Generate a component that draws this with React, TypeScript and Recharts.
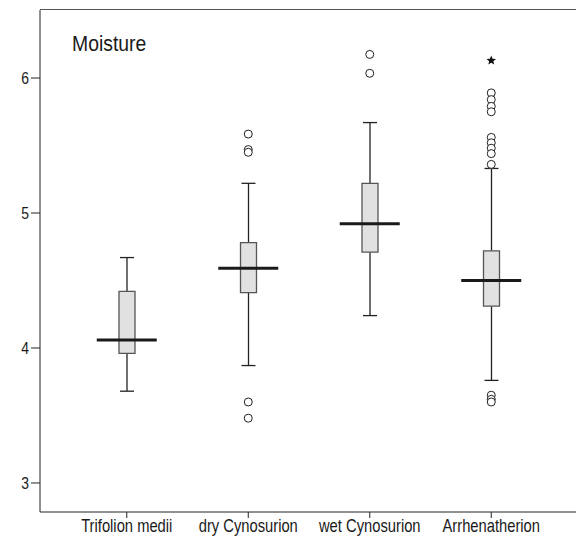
import { ComposedChart, Bar, Scatter, XAxis, YAxis } from "recharts";

// boxplot summary per vegetation type
const categories = ["Trifolion medii", "dry Cynosurion", "wet Cynosurion", "Arrhenatherion"];
const whiskerLow = [3.68, 3.87, 4.24, 3.76];
const quartile1 = [3.96, 4.41, 4.71, 4.31];
const medians = [4.06, 4.59, 4.92, 4.5];
const quartile3 = [4.42, 4.78, 5.22, 4.72];
const whiskerHigh = [4.67, 5.22, 5.67, 5.33];

// outliers (circles) and extremes (stars)
const outliers = [
  [],
  [5.585, 5.47, 5.45, 3.6, 3.48],
  [6.175, 6.035],
  [5.89, 5.84, 5.79, 5.75, 5.56, 5.52, 5.48, 5.44, 5.36, 3.65, 3.62, 3.6],
];
const extremes = [[], [], [], [6.13]];

const yTicks = [3, 4, 5, 6];
const yDomain = [2.785, 6.504];

const data = categories.map((name, i) => ({
  name,
  low: whiskerLow[i],
  q1: quartile1[i],
  median: medians[i],
  q3: quartile3[i],
  high: whiskerHigh[i],
}));

const outlierData = categories.flatMap((name, i) => outliers[i].map((value) => ({ name, value })));
const extremeData = categories.flatMap((name, i) => extremes[i].map((value) => ({ name, value })));

const FONT = "'Liberation Sans', Arial, sans-serif";

// no narrow font available, so squeeze the text horizontally
const XTick = (props: any) => {
  const { x, y, payload } = props;
  return (
    <g transform={`translate(${x},${y})`}>
      <text transform="scale(0.82,1)" textAnchor="middle" dy="0.71em" fontFamily={FONT} fontSize={18} fill="#1a1a1a">
        {payload.value}
      </text>
    </g>
  );
};

const YTick = (props: any) => {
  const { x, y, payload } = props;
  return (
    <g transform={`translate(${x},${y})`}>
      <text transform="scale(0.87,1)" textAnchor="end" dy="0.355em" fontFamily={FONT} fontSize={16} fill="#1a1a1a">
        {payload.value}
      </text>
    </g>
  );
};

const LowWhisker = (props: any) => {
  const { x, y, width, height } = props;
  const cx = x + width / 2;
  return (
    <g>
      <line x1={cx} x2={cx} y1={y} y2={y + height} stroke="#222" strokeWidth={1.3} />
      <line x1={cx - 7} x2={cx + 7} y1={y + height} y2={y + height} stroke="#222" strokeWidth={1.3} />
    </g>
  );
};

const HighWhisker = (props: any) => {
  const { x, y, width, height } = props;
  const cx = x + width / 2;
  return (
    <g>
      <line x1={cx} x2={cx} y1={y} y2={y + height} stroke="#222" strokeWidth={1.3} />
      <line x1={cx - 7} x2={cx + 7} y1={y} y2={y} stroke="#222" strokeWidth={1.3} />
    </g>
  );
};

const MedianLine = (props: any) => {
  const { cx, cy } = props;
  return <line x1={cx - 30} x2={cx + 30} y1={cy} y2={cy} stroke="#1a1a1a" strokeWidth={3} />;
};

const OutlierDot = (props: any) => {
  const { cx, cy } = props;
  return <circle cx={cx} cy={cy} r={4} fill="#fff" stroke="#222" strokeWidth={1} />;
};

const StarDot = (props: any) => {
  const { cx, cy } = props;
  const pts: string[] = [];
  for (let k = 0; k < 10; k++) {
    const r = k % 2 === 0 ? 5 : 2.2;
    const a = -Math.PI / 2 + (k * Math.PI) / 5;
    pts.push(`${cx + r * Math.cos(a)},${cy + r * Math.sin(a)}`);
  }
  return <polygon points={pts.join(" ")} fill="#111" />;
};

export default function App() {
  return (
    <div style={{ position: "absolute", left: 8, top: 8, width: 568, height: 534 }}>
      <ComposedChart
        width={568}
        height={534}
        data={data}
        margin={{ top: 2, right: 0, bottom: 0, left: 0 }}
        barGap={-16}
      >
        <XAxis
          dataKey="name"
          type="category"
          allowDuplicatedCategory={false}
          padding={{ left: 26, right: 24 }}
          height={30}
          tickSize={6}
          tickMargin={1}
          stroke="#222"
          tick={<XTick />}
          interval={0}
        />
        <YAxis
          type="number"
          domain={yDomain}
          ticks={yTicks}
          allowDataOverflow
          width={32}
          tickSize={9}
          tickMargin={2}
          stroke="#222"
          tick={<YTick />}
        />
        <Bar
          dataKey={(d: any) => [d.low, d.q1]}
          barSize={16}
          shape={LowWhisker}
          isAnimationActive={false}
        />
        <Bar
          dataKey={(d: any) => [d.q3, d.high]}
          barSize={16}
          shape={HighWhisker}
          isAnimationActive={false}
        />
        <Bar
          dataKey={(d: any) => [d.q1, d.q3]}
          barSize={16}
          fill="#e1e1e1"
          stroke="#555"
          strokeWidth={1.3}
          isAnimationActive={false}
        />
        <Scatter dataKey="median" shape={MedianLine} isAnimationActive={false} />
        <Scatter data={outlierData} dataKey="value" shape={OutlierDot} isAnimationActive={false} />
        <Scatter data={extremeData} dataKey="value" shape={StarDot} isAnimationActive={false} />
      </ComposedChart>
      {/* top frame line of the plot area */}
      <div
        style={{
          position: "absolute",
          left: 32,
          top: 1,
          width: 536,
          height: 0,
          borderTop: "1.5px solid #555",
        }}
      />
      <div
        style={{
          position: "absolute",
          left: 64,
          top: 25,
          fontFamily: FONT,
          fontSize: 22,
          color: "#1a1a1a",
          lineHeight: 1,
          transform: "scaleX(0.88)",
          transformOrigin: "left center",
        }}
      >
        Moisture
      </div>
    </div>
  );
}
